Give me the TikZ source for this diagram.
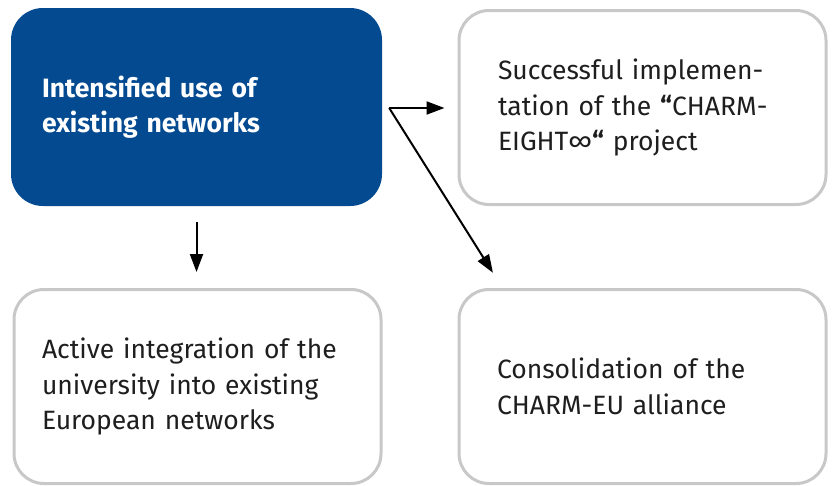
\documentclass[tikz,border=0pt]{standalone}
\usepackage{fontspec}
\setmainfont{Fira Sans}
\usetikzlibrary{arrows.meta,calc}
\definecolor{charmblue}{HTML}{034A91}
\definecolor{boxgray}{HTML}{C8C8C8}
\definecolor{txt}{HTML}{1E1E1E}
\begin{document}
\begin{tikzpicture}[x=1pt,y=-1pt,
  box/.style={draw=boxgray, line width=3pt, fill=white, rounded corners=30pt,
    minimum width=367pt, minimum height=194pt, align=left, text=txt,
    font=\fontsize{26.5}{35.5}\selectfont, inner ysep=0pt},
  mainbox/.style={fill=charmblue, rounded corners=32pt, minimum width=371pt,
    minimum height=198pt, align=left, text=white,
    font=\fontsize{26.5}{35}\selectfont\bfseries, inner ysep=0pt},
  arr/.style={line width=2pt, draw=black, -{Triangle[length=18pt,width=13pt]}}]
\useasboundingbox (0,0) rectangle (832,485);
\node[mainbox, inner xsep=31pt, text width=309pt] (main) at (196.5,107) {\raisebox{-2pt}{Intensified use of}\\\raisebox{-2pt}{existing networks}};
\node[box, inner xsep=39pt, text width=289pt] (tr) at (642.5,107.5) {Successful implemen-\\tation of the \textbf{“}CHARM-\\EIGHT∞\textbf{“} project};
\node[box, inner xsep=28pt, text width=311pt] (bl) at (197.5,386.5) {Active integration of the\\university into existing\\European networks};
\node[box, inner xsep=38pt, text width=291pt] (br) at (642.5,386.5) {Consolidation of the\\CHARM-EU alliance};
\coordinate (fork) at ($(main.east)+(7,1)$);
\draw[arr, shorten >=13pt] (fork) -- (fork -| tr.west);
\draw[arr, shorten >=18pt] (fork) -- ($(br.north west)+(45,0)$);
\draw[arr, shorten <=16pt, shorten >=16pt] (main.south) -- (main.south |- bl.north);
\end{tikzpicture}
\end{document}
